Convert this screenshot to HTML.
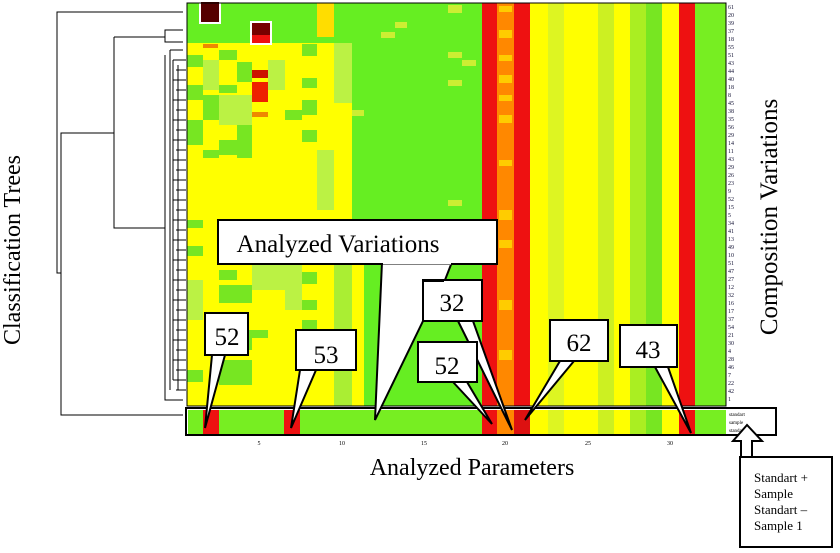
<!DOCTYPE html>
<html><head><meta charset="utf-8"><style>
html,body{margin:0;padding:0;background:#fff;}
svg{display:block;}
text{font-family:"Liberation Serif",serif;}
</style></head><body>
<svg width="840" height="553" viewBox="0 0 840 553" xmlns="http://www.w3.org/2000/svg">
<rect x="187" y="3" width="539" height="403" fill="#ffff00"/>
<rect x="187" y="3" width="165" height="40" fill="#66ee22"/>
<rect x="302" y="3" width="15" height="30" fill="#66ee22"/>
<rect x="317" y="3" width="17" height="34" fill="#ffdd00"/>
<g fill="#77e622">
<rect x="187" y="55" width="16" height="12"/>
<rect x="203" y="95" width="16" height="25"/>
<rect x="187" y="85" width="16" height="15"/>
<rect x="219" y="50" width="18" height="10"/>
<rect x="237" y="62" width="15" height="20"/>
<rect x="219" y="85" width="18" height="8"/>
<rect x="302" y="44" width="15" height="12"/>
<rect x="302" y="78" width="15" height="10"/>
<rect x="302" y="100" width="15" height="15"/>
<rect x="187" y="120" width="16" height="25"/>
<rect x="237" y="125" width="15" height="25"/>
<rect x="219" y="140" width="18" height="15"/>
<rect x="285" y="110" width="17" height="10"/>
<rect x="302" y="130" width="15" height="12"/>
<rect x="203" y="150" width="16" height="8"/>
<rect x="237" y="150" width="15" height="8"/>
<rect x="187" y="220" width="16" height="8"/>
<rect x="187" y="246" width="16" height="10"/>
<rect x="219" y="270" width="18" height="10"/>
<rect x="219" y="285" width="33" height="18"/>
<rect x="302" y="272" width="15" height="12"/>
<rect x="302" y="300" width="15" height="10"/>
<rect x="302" y="320" width="15" height="10"/>
<rect x="219" y="330" width="33" height="20"/>
<rect x="219" y="360" width="33" height="25"/>
<rect x="252" y="330" width="16" height="8"/>
<rect x="187" y="370" width="16" height="12"/>
</g>
<g fill="#bbf244">
<rect x="203" y="60" width="16" height="30"/>
<rect x="219" y="95" width="33" height="30"/>
<rect x="268" y="60" width="17" height="30"/>
<rect x="187" y="280" width="16" height="40"/>
<rect x="285" y="260" width="17" height="50"/>
<rect x="252" y="260" width="33" height="30"/>
<rect x="317" y="150" width="17" height="60"/>
</g>
<rect x="352" y="3" width="130" height="403" fill="#66ee22"/>
<rect x="334" y="43" width="18" height="60" fill="#bbf244"/>
<rect x="334" y="3" width="18" height="40" fill="#66ee22"/>
<rect x="334" y="220" width="18" height="186" fill="#aaee33"/>
<rect x="352" y="220" width="12" height="186" fill="#ffff00"/>
<rect x="364" y="270" width="120" height="80" fill="#66ee22"/>
<g fill="#ccee33">
<rect x="381" y="32" width="14" height="6"/>
<rect x="395" y="22" width="12" height="6"/>
<rect x="448" y="5" width="14" height="8"/>
<rect x="448" y="52" width="14" height="6"/>
<rect x="462" y="60" width="14" height="6"/>
<rect x="448" y="80" width="14" height="6"/>
<rect x="448" y="200" width="14" height="6"/>
<rect x="352" y="110" width="12" height="6"/>
</g>
<rect x="482" y="3" width="15" height="403" fill="#ee1111"/>
<rect x="497" y="3" width="17" height="403" fill="#ff8800"/>
<g fill="#ffcc00">
<rect x="499" y="6" width="13" height="6"/><rect x="499" y="30" width="13" height="8"/><rect x="499" y="55" width="13" height="6"/><rect x="499" y="75" width="13" height="8"/><rect x="499" y="95" width="13" height="6"/><rect x="499" y="115" width="13" height="8"/><rect x="499" y="160" width="13" height="6"/><rect x="499" y="210" width="13" height="10"/><rect x="499" y="240" width="13" height="8"/><rect x="499" y="300" width="13" height="10"/><rect x="499" y="350" width="13" height="10"/>
</g>
<rect x="514" y="3" width="16" height="403" fill="#ee1111"/>
<rect x="548" y="3" width="16" height="403" fill="#ddf522"/>
<rect x="598" y="3" width="16" height="403" fill="#ccf022"/>
<rect x="630" y="3" width="16" height="403" fill="#aaee22"/>
<rect x="646" y="3" width="16" height="403" fill="#77e622"/>
<rect x="679" y="3" width="16" height="403" fill="#ee1111"/>
<rect x="695" y="3" width="31" height="403" fill="#77ee22"/>
<rect x="200" y="1" width="20" height="22" fill="#550000" stroke="#fff" stroke-width="2"/>
<rect x="251" y="22" width="20" height="22" fill="#770000" stroke="#fff" stroke-width="2"/>
<rect x="252" y="35" width="18" height="8" fill="#ee1111"/>
<rect x="252" y="70" width="16" height="8" fill="#cc1100"/>
<rect x="252" y="82" width="16" height="20" fill="#ee2200"/>
<rect x="252" y="112" width="16" height="5" fill="#ee8800"/>
<rect x="203" y="44" width="15" height="4" fill="#ee8800"/>
<rect x="187" y="3" width="539" height="403" fill="none" stroke="#000" stroke-width="1"/>
<rect x="186" y="408" width="590" height="27" fill="#fff" stroke="#000" stroke-width="2"/>
<rect x="188" y="410" width="538" height="24" fill="#77ee22"/>
<rect x="203" y="410" width="16" height="24" fill="#ee1111"/>
<rect x="284" y="410" width="16" height="24" fill="#ee1111"/>
<rect x="482" y="410" width="15" height="24" fill="#ee1111"/>
<rect x="497" y="410" width="17" height="24" fill="#ff8800"/>
<rect x="514" y="410" width="16" height="24" fill="#dd1111"/>
<rect x="530" y="410" width="149" height="24" fill="#ffff00"/>
<rect x="548" y="410" width="16" height="24" fill="#ddf522"/>
<rect x="598" y="410" width="16" height="24" fill="#ccf022"/>
<rect x="630" y="410" width="16" height="24" fill="#aaee22"/>
<rect x="646" y="410" width="16" height="24" fill="#77e622"/>
<rect x="679" y="410" width="16" height="24" fill="#ee1111"/>
<g font-family="Liberation Sans" font-size="5" fill="#000">
<text x="729" y="416">standart</text><text x="729" y="424">sample</text><text x="729" y="432">standart</text>
</g>
<g font-family="Liberation Sans" font-size="6" fill="#000" text-anchor="middle">
<text x="259" y="445">5</text><text x="342" y="445">10</text><text x="424" y="445">15</text><text x="505" y="445">20</text><text x="588" y="445">25</text><text x="670" y="445">30</text>
</g>
<g font-family="Liberation Sans" font-size="6" fill="#113" >
<text x="728" y="9">61</text><text x="728" y="17">20</text><text x="728" y="25">39</text><text x="728" y="33">37</text><text x="728" y="41">18</text><text x="728" y="49">55</text><text x="728" y="57">51</text><text x="728" y="65">43</text><text x="728" y="73">44</text><text x="728" y="81">40</text><text x="728" y="89">18</text><text x="728" y="97">8</text><text x="728" y="105">45</text><text x="728" y="113">38</text><text x="728" y="121">35</text><text x="728" y="129">56</text><text x="728" y="137">29</text><text x="728" y="145">14</text><text x="728" y="153">11</text><text x="728" y="161">43</text><text x="728" y="169">29</text><text x="728" y="177">26</text><text x="728" y="185">23</text><text x="728" y="193">9</text><text x="728" y="201">52</text><text x="728" y="209">15</text><text x="728" y="217">5</text><text x="728" y="225">34</text><text x="728" y="233">41</text><text x="728" y="241">13</text><text x="728" y="249">49</text><text x="728" y="257">10</text><text x="728" y="265">51</text><text x="728" y="273">47</text><text x="728" y="281">27</text><text x="728" y="289">12</text><text x="728" y="297">32</text><text x="728" y="305">16</text><text x="728" y="313">17</text><text x="728" y="321">37</text><text x="728" y="329">54</text><text x="728" y="337">21</text><text x="728" y="345">30</text><text x="728" y="353">4</text><text x="728" y="361">28</text><text x="728" y="369">46</text><text x="728" y="377">7</text><text x="728" y="385">22</text><text x="728" y="393">42</text><text x="728" y="401">1</text>
</g>
<g stroke="#000" stroke-width="1" fill="none">
<path d="M183 12 H57 V273 H61"/>
<path d="M183 415 H61 V133 H114"/>
<path d="M114 37 V228 H165"/>
<path d="M114 37 H165 V30 H183 M165 37 V42 H183"/>
<path d="M165 55 V400 H183"/>
<path d="M170 50 H183 M170 50 V390"/>
<path d="M173 60 V380"/>
</g>
<g stroke="#000" stroke-width="1">
<path d="M173 60 H186 M176 70 H186 M173 80 H186 M176 90 H186 M173 100 H186 M176 110 H186 M173 120 H186 M176 130 H186 M173 140 H186 M176 150 H186 M173 160 H186 M176 170 H186 M173 180 H186 M176 190 H186 M173 200 H186 M176 210 H186 M173 220 H186 M176 230 H186 M173 240 H186 M176 250 H186 M173 260 H186 M176 270 H186 M173 280 H186 M176 290 H186 M173 300 H186 M176 310 H186 M173 320 H186 M176 330 H186 M173 340 H186 M176 350 H186 M173 360 H186 M176 370 H186 M173 380 H186 M176 390 H186"/>
<path d="M178 65 V390" />
</g>
<g fill="#fff" stroke="#000" stroke-width="2" stroke-linejoin="miter">
<polygon points="382,262 375,420 423,321 423,280 445,280 452,262"/>
<rect x="218" y="220" width="279" height="44"/>
<polygon points="212,355 205,428 225,355"/>
<rect x="205" y="313" width="43" height="42"/>
<polygon points="300,370 291,428 316,370"/>
<rect x="296" y="330" width="60" height="40"/>
<polygon points="458,321 512,430 473,321"/>
<rect x="423" y="280" width="59" height="41"/>
<polygon points="453,382 492,424 467,382"/>
<rect x="418" y="342" width="59" height="40"/>
<polygon points="560,361 525,420 574,361"/>
<rect x="550" y="320" width="58" height="41"/>
<polygon points="655,367 691,433 668,367"/>
<rect x="620" y="325" width="57" height="42"/>
</g>
<line x1="383" y1="263" x2="451" y2="263" stroke="#fff" stroke-width="3"/>
<line x1="424" y1="281" x2="444" y2="281" stroke="#000" stroke-width="2"/>
<g font-size="25" fill="#000" text-anchor="middle">
<text x="338" y="252" font-size="25">Analyzed Variations</text>
<text x="227" y="345">52</text>
<text x="326" y="363">53</text>
<text x="452" y="311">32</text>
<text x="447" y="374">52</text>
<text x="579" y="351">62</text>
<text x="648" y="358">43</text>
</g>
<polygon points="747,425 733,441 741,441 741,458 752,458 752,441 762,441" fill="#fff" stroke="#000" stroke-width="2"/>
<rect x="740" y="457" width="92" height="90" fill="#fff" stroke="#000" stroke-width="2"/>
<g font-size="13" fill="#000">
<text x="754" y="482">Standart +</text>
<text x="754" y="498">Sample</text>
<text x="754" y="514">Standart –</text>
<text x="754" y="530">Sample 1</text>
</g>
<text x="472" y="475" font-size="24" text-anchor="middle">Analyzed Parameters</text>
<text transform="translate(20,250) rotate(-90)" font-size="24" text-anchor="middle">Classification Trees</text>
<text transform="translate(777,217) rotate(-90)" font-size="25" text-anchor="middle">Composition Variations</text>
</svg>
</body></html>
